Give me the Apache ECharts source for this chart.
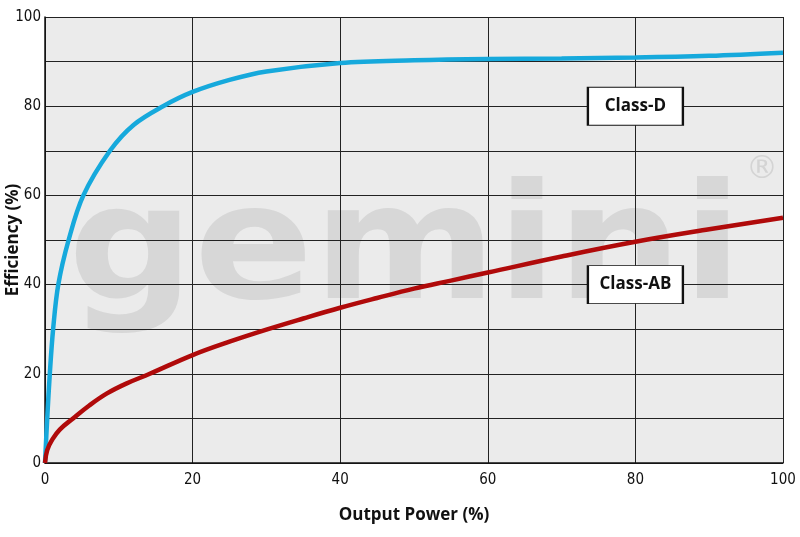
<!DOCTYPE html>
<html><head><meta charset="utf-8">
<script src="https://cdn.jsdelivr.net/npm/echarts@6/dist/echarts.min.js"></script>
<style>html,body{margin:0;padding:0;background:#fff}#c{width:800px;height:537px}</style>
</head><body><div id="c"></div>
<script>
// Output power (%) vs efficiency (%)
var classDX = [0, 0.3, 0.65, 1.1, 1.8, 3.2, 5.2, 8.8, 12, 16, 20, 25, 30, 40, 50, 60, 70, 80, 90, 100];
var classDY = [0, 10, 20, 30, 40, 50, 60, 70, 75.8, 80, 83.2, 85.9, 87.8, 89.7, 90.3, 90.6, 90.7, 90.9, 91.3, 92];
var classABX = [0, 0.3, 1, 2, 3.8, 6, 8.4, 11, 14.2, 20, 25, 30, 35, 40, 45, 50, 55, 60, 70, 80, 90, 100];
var classABY = [0, 2.9, 5.3, 7.5, 10, 12.9, 15.6, 17.8, 20, 24.2, 27.2, 29.9, 32.4, 34.8, 37, 39.1, 40.9, 42.7, 46.3, 49.6, 52.4, 55];
var xTicks = [0, 20, 40, 60, 80, 100];
var yTicks = [0, 20, 40, 60, 80, 100];
var seriesNames = ['Class-D', 'Class-AB'];
var labelPos = [[80, 80], [80, 40]];
var xTitle = 'Output Power (%)';
var yTitle = 'Efficiency (%)';
var watermark = 'gemini';

function pairs(xs, ys) { return xs.map(function (x, i) { return [x, ys[i]]; }); }

var chart = echarts.init(document.getElementById('c'));
var numFont = '"Liberation Sans Narrow","DejaVu Sans Condensed",sans-serif';
var boldFont = '"Open Sans","Noto Sans",sans-serif';

function mk(name, coord) {
  return {
    symbol: 'rect', symbolSize: [95, 38], silent: true,
    data: [{ coord: coord, value: name }],
    itemStyle: { color: '#fff', borderColor: '#111', borderWidth: 1.5, shadowBlur: 0 },
    label: { show: true, position: 'inside', formatter: name, color: '#111', fontFamily: boldFont, fontWeight: 'bold', fontSize: 17 }
  };
}

chart.setOption({
  animation: false,
  grid: { left: 45, top: 17, right: 17, bottom: 74, containLabel: false, outerBoundsMode: 'none', show: false },
  graphic: [
    { type: 'rect', left: 45, top: 17, z: -10, silent: true,
      shape: { width: 738, height: 446 }, style: { fill: '#ebebeb' } },
    { type: 'text', left: 68, top: 176, z: -5, silent: true,
      style: { text: watermark, font: '900 160px "DejaVu Sans"', fill: '#d7d7d7' }, scaleX: 1.1 },
    { type: 'text', left: 746, top: 154, z: -5, silent: true,
      style: { text: '\u00ae', font: '32px "DejaVu Sans"', fill: '#d4d4d4' } }
  ],
  xAxis: {
    type: 'value', min: 0, max: 100, interval: 20,
    name: xTitle, nameLocation: 'middle', nameGap: 44,
    nameTextStyle: { fontFamily: boldFont, fontWeight: 'bold', fontSize: 17, color: '#111' },
    axisLine: { show: true, lineStyle: { color: '#111', width: 1.5 } },
    axisTick: { show: false },
    axisLabel: { fontFamily: numFont, fontSize: 15, color: '#111', margin: 10,
      formatter: function (v) { return xTicks.indexOf(v) >= 0 ? String(v) : ''; } },
    splitLine: { show: true, lineStyle: { color: '#222', width: 1 } }
  },
  yAxis: {
    type: 'value', min: 0, max: 100, interval: 10,
    name: yTitle, nameLocation: 'middle', nameGap: 23, nameMoveOverlap: false,
    nameTextStyle: { fontFamily: boldFont, fontWeight: 'bold', fontSize: 17, color: '#111' },
    axisLine: { show: true, lineStyle: { color: '#111', width: 1.5 } },
    axisTick: { show: false },
    axisLabel: { fontFamily: numFont, fontSize: 15, color: '#111', margin: 4,
      formatter: function (v) { return yTicks.indexOf(v) >= 0 ? String(v) : ''; } },
    splitLine: { show: true, lineStyle: { color: '#222', width: 1 } }
  },
  series: [
    { name: seriesNames[0], type: 'line', data: pairs(classDX, classDY), showSymbol: false,
      smooth: 0.35, lineStyle: { color: '#16a9dc', width: 4.5 }, z: 3,
      markPoint: mk(seriesNames[0], labelPos[0]) },
    { name: seriesNames[1], type: 'line', data: pairs(classABX, classABY), showSymbol: false,
      smooth: 0.4, lineStyle: { color: '#b00a0a', width: 4.5 }, z: 3,
      markPoint: mk(seriesNames[1], labelPos[1]) }
  ]
});
</script></body></html>
